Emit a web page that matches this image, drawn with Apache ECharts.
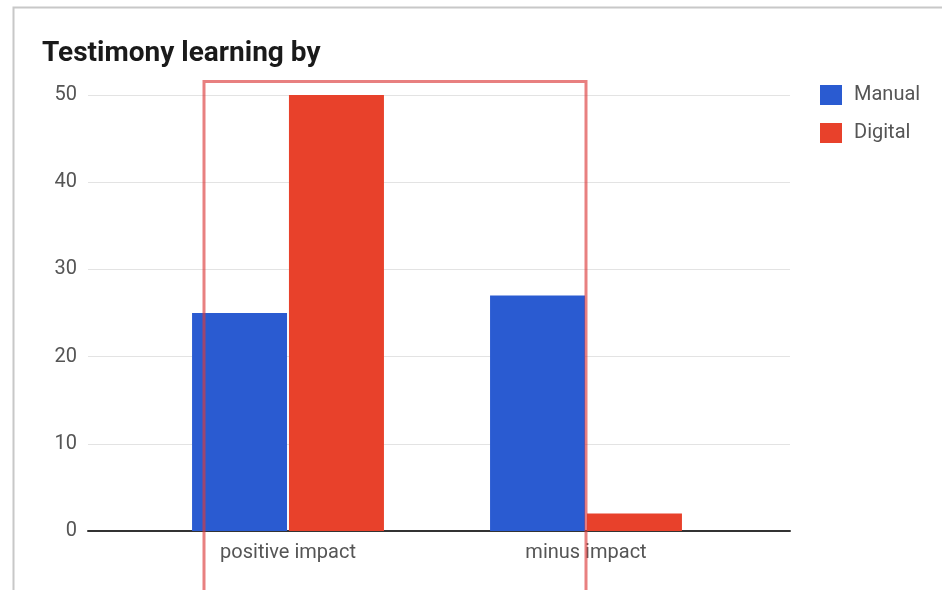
<!DOCTYPE html>
<html>
<head>
<meta charset="utf-8">
<script src="https://cdn.jsdelivr.net/npm/echarts@6/dist/echarts.min.js"></script>
<style>
html,body{margin:0;padding:0;background:#fff;}
#chart{width:942px;height:590px;}
</style>
</head>
<body>
<div id="chart"></div>
<script>
const titleText = 'Testimony learning by';
const categories = ['positive impact', 'minus impact'];
const seriesNames = ['Manual', 'Digital'];
const manualValues = [25, 27];
const digitalValues = [50, 2];
const yTicks = [0, 10, 20, 30, 40, 50];

const chart = echarts.init(document.getElementById('chart'));
const font = 'Roboto, "Noto Sans", sans-serif';
chart.setOption({
  animation: false,
  title: {
    text: titleText,
    left: 37, top: 35,
    textStyle: { fontFamily: font, fontSize: 28, fontWeight: 'bold', color: '#1a1a1a' }
  },
  legend: {
    orient: 'vertical',
    left: 815, top: 80,
    itemWidth: 22, itemHeight: 20, itemGap: 18,
    icon: 'rect',
    data: seriesNames,
    textStyle: { fontFamily: font, fontSize: 20, color: '#555', padding: [0, 0, 0, 7] }
  },
  grid: [
    { left: 88, right: 152, top: 95, bottom: 59 },
    { left: 139, right: 207, top: 95, bottom: 59 }
  ],
  xAxis: [
    { type: 'category', gridIndex: 0, data: categories, axisLine: { show: true, lineStyle: { color: '#333', width: 2 } }, axisTick: { show: false }, axisLabel: { show: false } },
    { type: 'category', gridIndex: 1, data: categories, axisLine: { show: false }, axisTick: { show: false },
      axisLabel: { fontFamily: font, fontSize: 20, color: '#555', margin: 12 } }
  ],
  yAxis: [
    { type: 'value', gridIndex: 0, min: yTicks[0], max: yTicks[yTicks.length - 1], interval: 10,
      axisLine: { show: false }, axisTick: { show: false },
      splitLine: { lineStyle: { color: '#e3e3e3', width: 1 } },
      axisLabel: { fontFamily: font, fontSize: 20, color: '#555', margin: 11 } },
    { type: 'value', gridIndex: 1, min: yTicks[0], max: yTicks[yTicks.length - 1], interval: 10,
      show: false, splitLine: { show: false } }
  ],
  series: [
    { name: seriesNames[0], type: 'bar', xAxisIndex: 1, yAxisIndex: 1, data: manualValues,
      barWidth: 95, barGap: '2%', itemStyle: { color: '#2a5bd1' } },
    { name: seriesNames[1], type: 'bar', xAxisIndex: 1, yAxisIndex: 1, data: digitalValues,
      barWidth: 95, barGap: '2%', itemStyle: { color: '#e8412b' } }
  ],
  graphic: [
    { type: 'rect', z: 0, silent: true, shape: { x: 13.5, y: 7.5, width: 940, height: 600 },
      style: { fill: 'none', stroke: '#c8c8c8', lineWidth: 2 } },
    { type: 'rect', z: 100, silent: true, shape: { x: 204, y: 81.5, width: 382, height: 520 },
      style: { fill: 'none', stroke: 'rgba(220,60,60,0.65)', lineWidth: 3 } }
  ]
});
</script>
</body>
</html>
